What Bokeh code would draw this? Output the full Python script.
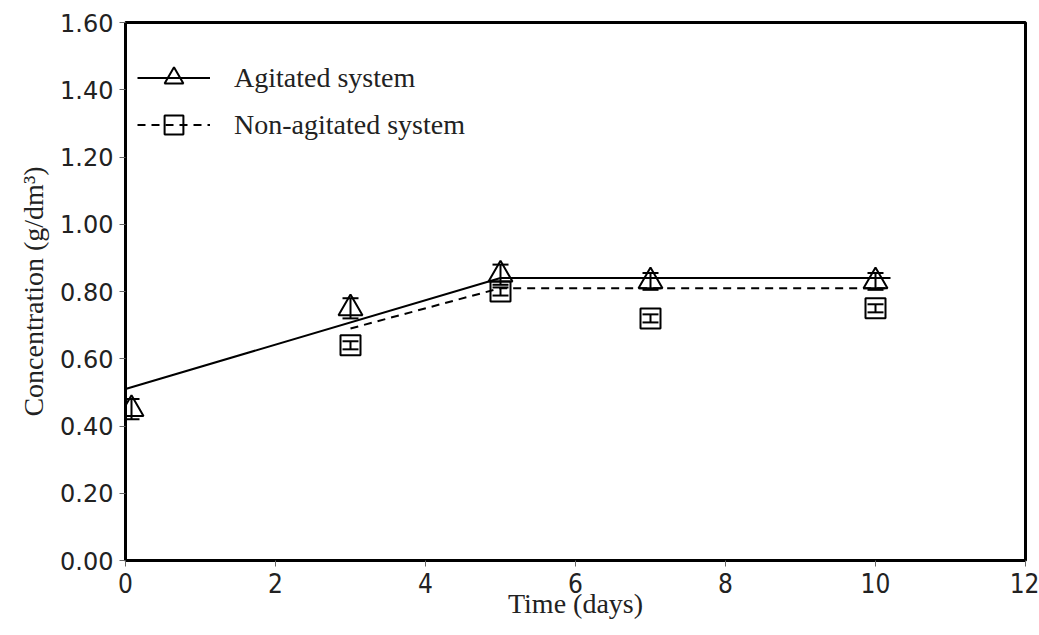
from bokeh.plotting import figure
from bokeh.models import (Range1d, NumeralTickFormatter, FixedTicker, Legend, LegendItem,
                          ColumnDataSource, Whisker)
from bokeh.embed import file_html
from bokeh.resources import INLINE

# ---- data ----
days_ag = [0.08, 3, 5, 7, 10]
conc_ag = [0.45, 0.75, 0.85, 0.83, 0.83]
err_ag = [0.03, 0.03, 0.03, 0.025, 0.025]

days_non = [3, 5, 7, 10]
conc_non = [0.64, 0.80, 0.72, 0.75]
err_non = [0.012, 0.012, 0.012, 0.012]

fit_ag_x = [0, 5, 10.2]
fit_ag_y = [0.51, 0.84, 0.84]
fit_non_x = [3, 5, 10.2]
fit_non_y = [0.69, 0.81, 0.81]

x_ticks = [0, 2, 4, 6, 8, 10, 12]
y_ticks = [0.0, 0.2, 0.4, 0.6, 0.8, 1.0, 1.2, 1.4, 1.6]

SERIF = "Liberation Serif"
SANS = "DejaVu Sans"

p = figure(width=1039, height=635, output_backend="svg", toolbar_location=None,
           x_range=Range1d(0, 12), y_range=Range1d(0, 1.6),
           min_border_left=125, min_border_right=14, min_border_top=22, min_border_bottom=75)
p.xgrid.visible = False
p.ygrid.visible = False
p.outline_line_color = "black"
p.outline_line_width = 3
p.background_fill_color = "white"
p.border_fill_color = "white"

# axes
p.xaxis.ticker = FixedTicker(ticks=x_ticks)
p.yaxis.ticker = FixedTicker(ticks=y_ticks)
p.yaxis.formatter = NumeralTickFormatter(format="0.00")
for ax in (p.xaxis[0], p.yaxis[0]):
    ax.axis_line_color = "black"
    ax.axis_line_width = 3
    ax.major_tick_line_color = "#666666"
    ax.major_tick_in = 0
    ax.major_tick_out = 6
    ax.minor_tick_line_color = None
    ax.major_label_text_color = "#222222"
    ax.axis_label_text_font = SERIF
    ax.axis_label_text_font_style = "normal"
    ax.axis_label_text_font_size = "28px"
    ax.axis_label_text_color = "#222222"
p.yaxis.major_label_text_font = SANS
p.yaxis.major_label_text_font_size = "24px"
p.xaxis.major_label_text_font = "DejaVu Sans Condensed"
p.xaxis.major_label_text_font_size = "26px"
p.xaxis.major_label_standoff = 6
p.xaxis.axis_label = "Time (days)"
p.xaxis.axis_label_standoff = -8
p.yaxis.axis_label = "Concentration (g/dm\u00b3)"
p.yaxis.major_label_standoff = 6
p.yaxis.axis_label_standoff = 8

# fitted lines
l_ag = p.line(fit_ag_x, fit_ag_y, line_color="black", line_width=2)
l_non = p.line(fit_non_x, fit_non_y, line_color="black", line_width=2, line_dash="8 6")

# error bars
src_ag = ColumnDataSource(dict(x=days_ag, y=conc_ag,
                               up=[c + e for c, e in zip(conc_ag, err_ag)],
                               lo=[c - e for c, e in zip(conc_ag, err_ag)]))
src_non = ColumnDataSource(dict(x=days_non, y=conc_non,
                                up=[c + e for c, e in zip(conc_non, err_non)],
                                lo=[c - e for c, e in zip(conc_non, err_non)]))
for src in (src_ag, src_non):
    w = Whisker(base="x", upper="up", lower="lo", source=src, line_color="black", line_width=2)
    w.upper_head.size = 16
    w.lower_head.size = 16
    w.upper_head.line_width = 2
    w.lower_head.line_width = 2
    w.upper_head.line_color = "black"
    w.lower_head.line_color = "black"
    p.add_layout(w)

# markers
m_ag = p.scatter("x", "y", source=src_ag, marker="triangle", size=24,
                 fill_color=None, line_color="black", line_width=2)
m_non = p.scatter("x", "y", source=src_non, marker="square", size=20,
                  fill_color=None, line_color="black", line_width=2)

legend = Legend(items=[
    LegendItem(label="Agitated system", renderers=[l_ag, m_ag]),
    LegendItem(label="Non-agitated system", renderers=[l_non, m_non]),
], location=(12, 412))
legend.label_text_font = SERIF
legend.label_text_font_size = "28px"
legend.label_text_color = "#222222"
legend.glyph_width = 73
legend.glyph_height = 47
legend.label_height = 47
legend.label_standoff = 24
legend.spacing = 0
legend.border_line_color = None
legend.background_fill_alpha = 0
legend.margin = 0
legend.padding = 5
p.add_layout(legend)

open("out.html", "w").write(file_html(p, INLINE))
